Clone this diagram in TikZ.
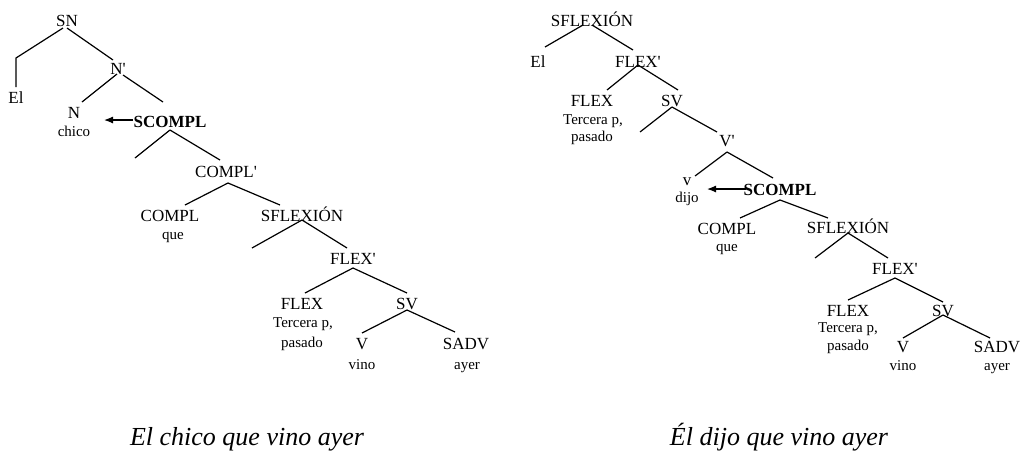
\documentclass[tikz,border=0pt]{standalone}
\usepackage{fontspec}
\setmainfont{Liberation Serif}[Ligatures=TeXOff]
\usetikzlibrary{arrows.meta}
\begin{document}
\begin{tikzpicture}[x=1pt,y=-1pt,
 lab/.style={inner sep=0pt,text height=12pt,text depth=0pt,font=\fontsize{17}{19}\selectfont},
 wd/.style={inner sep=0pt,text height=9pt,text depth=0pt,font=\fontsize{15}{17}\selectfont},
 bl/.style={inner sep=0pt,text height=12pt,text depth=0pt,font=\fontsize{17}{19}\selectfont\bfseries},
 captxt/.style={inner sep=0pt,text height=16pt,text depth=0pt,font=\fontsize{26}{30}\selectfont\itshape},
 br/.style={line width=1.2pt},
 mv/.style={line width=1.2pt,-{Latex[length=9pt,width=7pt]}}]
\path[use as bounding box] (0,0) rectangle (1020,456);

% ---------------- left tree ----------------
\node[lab] (SN) at (67,20) {SN};
\node[lab] (El) at (16,97) {El};
\node[lab] (Np) at (118,68) {N'};
\node[lab] (N) at (74,112) {N};
\node[wd] (chico) at (74,132) {chico};
\node[bl] (SC) at (170,121) {SCOMPL};
\node[lab] (Cp) at (226,171) {COMPL'};
\node[lab] (C) at (170,215) {COMPL};
\node[wd] (que) at (173,235) {que};
\node[lab] (SF) at (302,215) {SFLEXIÓN};
\node[lab] (Fp) at (353,258) {FLEX'};
\node[lab] (F) at (302,303) {FLEX};
\node[wd] (F1) at (303,323) {Tercera p,};
\node[wd] (F2) at (302,343) {pasado};
\node[lab] (SV) at (407,303) {SV};
\node[lab] (V) at (362,343) {V};
\node[wd] (vino) at (362,365) {vino};
\node[lab] (SA) at (466,343) {SADV};
\node[wd] (ayer) at (467,365) {ayer};

\coordinate (elk) at (16,58);
\coordinate (t1) at (163,102);
\coordinate (a1) at (104,120);
\coordinate (t2) at (135,158);
\coordinate (t3) at (252,248);

\draw[br] ([shift={(-4,8)}]SN.center) -- (elk) -- ([shift={(0,-10)}]El.center);
\draw[br] ([shift={(0,8)}]SN.center) -- ([shift={(-5,-8)}]Np.center);
\draw[br] ([shift={(-1,6)}]Np.center) -- ([shift={(8,-10)}]N.center);
\draw[br] ([shift={(5,7)}]Np.center) -- (t1);
\draw[mv] ([shift={(-37,-1)}]SC.center) -- (a1);
\draw[br] ([shift={(0,9)}]SC.center) -- (t2);
\draw[br] ([shift={(0,9)}]SC.center) -- ([shift={(-6,-11)}]Cp.center);
\draw[br] ([shift={(2,12)}]Cp.center) -- ([shift={(15,-10)}]C.center);
\draw[br] ([shift={(2,12)}]Cp.center) -- ([shift={(-22,-10)}]SF.center);
\draw[br] ([shift={(0,5)}]SF.center) -- (t3);
\draw[br] ([shift={(0,5)}]SF.center) -- ([shift={(-6,-10)}]Fp.center);
\draw[br] ([shift={(0,10)}]Fp.center) -- ([shift={(3,-10)}]F.center);
\draw[br] ([shift={(0,10)}]Fp.center) -- ([shift={(0,-10)}]SV.center);
\draw[br] ([shift={(0,7)}]SV.center) -- ([shift={(0,-10)}]V.center);
\draw[br] ([shift={(0,7)}]SV.center) -- ([shift={(-11,-11)}]SA.center);

% ---------------- right tree ----------------
\node[lab] (RSF) at (592,20) {SFLEXIÓN};
\node[lab] (REl) at (538,61) {El};
\node[lab] (RFp) at (638,61) {FLEX'};
\node[lab] (RF) at (592,100) {FLEX};
\node[wd] (RF1) at (593,120) {Tercera p,};
\node[wd] (RF2) at (592,137) {pasado};
\node[lab] (RSV) at (672,100) {SV};
\node[lab] (RVp) at (727,140) {V'};
\node[lab] (Rv) at (687,179) {v};
\node[wd] (dijo) at (687,198) {dijo};
\node[bl] (RSC) at (780,189) {SCOMPL};
\node[lab] (RC) at (727,228) {COMPL};
\node[wd] (Rque) at (727,247) {que};
\node[lab] (RSF2) at (848,227) {SFLEXIÓN};
\node[lab] (RFp2) at (895,268) {FLEX'};
\node[lab] (RF3) at (848,310) {FLEX};
\node[wd] (RF31) at (848,328) {Tercera p,};
\node[wd] (RF32) at (848,346) {pasado};
\node[lab] (RSV2) at (943,310) {SV};
\node[lab] (RV) at (903,346) {V};
\node[wd] (Rvino) at (903,366) {vino};
\node[lab] (RSA) at (997,346) {SADV};
\node[wd] (Rayer) at (997,366) {ayer};

\coordinate (r1) at (640,132);
\coordinate (r2) at (773,178);
\coordinate (a2) at (707,189);
\coordinate (r3) at (815,258);

\draw[br] ([shift={(-9,5)}]RSF.center) -- ([shift={(7,-14)}]REl.center);
\draw[br] ([shift={(0,5)}]RSF.center) -- ([shift={(-5,-11)}]RFp.center);
\draw[br] ([shift={(0,4)}]RFp.center) -- ([shift={(15,-10)}]RF.center);
\draw[br] ([shift={(0,4)}]RFp.center) -- ([shift={(6,-10)}]RSV.center);
\draw[br] ([shift={(0,7)}]RSV.center) -- (r1);
\draw[br] ([shift={(0,7)}]RSV.center) -- ([shift={(-10,-8)}]RVp.center);
\draw[br] ([shift={(0,12)}]RVp.center) -- ([shift={(8,-3)}]Rv.center);
\draw[br] ([shift={(0,12)}]RVp.center) -- (r2);
\draw[mv] ([shift={(-34,0)}]RSC.center) -- (a2);
\draw[br] ([shift={(0,11)}]RSC.center) -- ([shift={(13,-10)}]RC.center);
\draw[br] ([shift={(0,11)}]RSC.center) -- ([shift={(-20,-9)}]RSF2.center);
\draw[br] ([shift={(0,6)}]RSF2.center) -- (r3);
\draw[br] ([shift={(0,6)}]RSF2.center) -- ([shift={(-7,-10)}]RFp2.center);
\draw[br] ([shift={(0,10)}]RFp2.center) -- ([shift={(0,-10)}]RF3.center);
\draw[br] ([shift={(0,10)}]RFp2.center) -- ([shift={(0,-8)}]RSV2.center);
\draw[br] ([shift={(0,5)}]RSV2.center) -- ([shift={(0,-8)}]RV.center);
\draw[br] ([shift={(0,5)}]RSV2.center) -- ([shift={(-7,-8)}]RSA.center);

% captions
\node[captxt] (cL) at (247,437) {El chico que vino ayer};
\node[captxt] (cR) at (779,437) {Él dijo que vino ayer};
\end{tikzpicture}
\end{document}
